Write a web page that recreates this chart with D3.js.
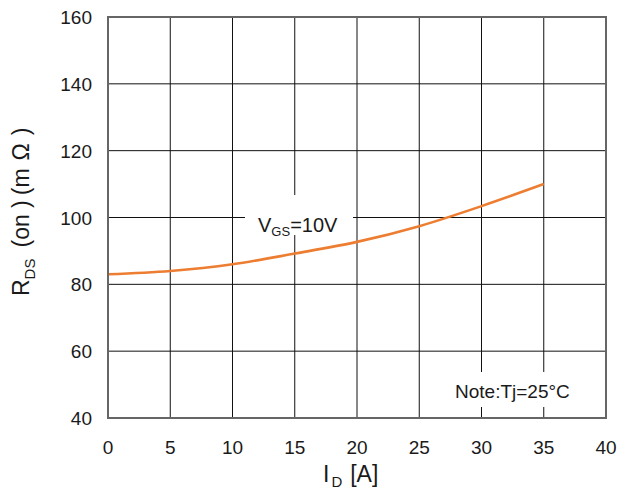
<!DOCTYPE html>
<html>
<head>
<meta charset="utf-8">
<script src="https://cdn.jsdelivr.net/npm/d3@7"></script>
<style>
  body { margin: 0; background: #fff; }
  svg text { font-family: "Liberation Sans", Arial, sans-serif; fill: #1a1a1a; }
</style>
</head>
<body>
<svg class="svgWrapper" width="617" height="492"></svg>
<script>
// drain current vs on-resistance
const idVals = [0, 5, 10, 15, 20, 25, 30, 35];
const rdsVals = [83.0, 84.0, 86.0, 89.2, 92.7, 97.4, 103.4, 110.0];
const xTicks = [0, 5, 10, 15, 20, 25, 30, 35, 40];
const yTicks = [40, 60, 80, 100, 120, 140, 160];

const svgObj = d3.select('.svgWrapper');

const plot = { left: 108, right: 606, top: 17, bottom: 418 };

const xScale = d3.scaleLinear().domain([0, 40]).range([plot.left, plot.right]);
const yScale = d3.scaleLinear().domain([40, 160]).range([plot.bottom, plot.top]);

// grid
const gridG = svgObj.append('g').attr('class', 'grid');
gridG.selectAll('.vline')
  .data(xTicks.slice(1, -1))
  .join('line')
  .attr('x1', d => xScale(d)).attr('x2', d => xScale(d))
  .attr('y1', plot.top).attr('y2', plot.bottom)
  .attr('stroke', '#111').attr('stroke-width', 1);
gridG.selectAll('.hline')
  .data(yTicks.slice(1, -1))
  .join('line')
  .attr('x1', plot.left).attr('x2', plot.right)
  .attr('y1', d => yScale(d)).attr('y2', d => yScale(d))
  .attr('stroke', '#111').attr('stroke-width', 1);

// tick labels
svgObj.append('g').selectAll('text')
  .data(xTicks)
  .join('text')
  .attr('x', d => xScale(d))
  .attr('y', 454)
  .attr('text-anchor', 'middle')
  .attr('font-size', 19)
  .text(d => d);

svgObj.append('g').selectAll('text')
  .data(yTicks)
  .join('text')
  .attr('x', 92)
  .attr('y', d => yScale(d) + 7)
  .attr('text-anchor', 'end')
  .attr('font-size', 19)
  .text(d => d);

// label boxes knock out the grid
const vgsBox = { x: 245, y: 195, w: 108, h: 40 };
const noteBox = { x: 446, y: 372, w: 142, h: 35 };
[vgsBox, noteBox].forEach(b => {
  svgObj.append('rect')
    .attr('x', b.x).attr('y', b.y)
    .attr('width', b.w).attr('height', b.h)
    .attr('fill', '#fff');
});

// curve
const lineGen = d3.line()
  .x((d, i) => xScale(idVals[i]))
  .y(d => yScale(d))
  .curve(d3.curveMonotoneX);

svgObj.append('path')
  .datum(rdsVals)
  .attr('d', lineGen)
  .attr('fill', 'none')
  .attr('stroke', '#ED7D31')
  .attr('stroke-width', 2.6);

// frame
svgObj.append('rect')
  .attr('x', plot.left).attr('y', plot.top)
  .attr('width', plot.right - plot.left)
  .attr('height', plot.bottom - plot.top)
  .attr('fill', 'none')
  .attr('stroke', '#666')
  .attr('stroke-width', 2);

// annotations
const vgs = svgObj.append('text')
  .attr('x', 258).attr('y', 232)
  .attr('font-size', 20);
vgs.append('tspan').text('V');
vgs.append('tspan').attr('font-size', 13).attr('dy', 4).text('GS');
vgs.append('tspan').attr('dy', -4).text('=10V');

svgObj.append('text')
  .attr('x', 455).attr('y', 398)
  .attr('font-size', 19)
  .text('Note:Tj=25°C');

// axis titles
const xTitle = svgObj.append('text')
  .attr('x', 323).attr('y', 482)
  .attr('font-size', 23);
xTitle.append('tspan').text('I');
xTitle.append('tspan').attr('font-size', 15).attr('dy', 5).attr('dx', 2).text('D');
xTitle.append('tspan').attr('dy', -5).attr('dx', 8).text('[A]');

const yTitle = svgObj.append('text')
  .attr('transform', 'translate(29,296) rotate(-90)')
  .attr('font-size', 23);
yTitle.append('tspan').text('R');
yTitle.append('tspan').attr('font-size', 15).attr('dy', 6).text('DS');
yTitle.append('tspan').attr('dy', -6).attr('dx', 11).text('(on )');
yTitle.append('tspan').attr('dx', 5).text('(m');
yTitle.append('tspan').attr('dx', 8).text('Ω');
yTitle.append('tspan').attr('dx', 8).text(')');
</script>
</body>
</html>
